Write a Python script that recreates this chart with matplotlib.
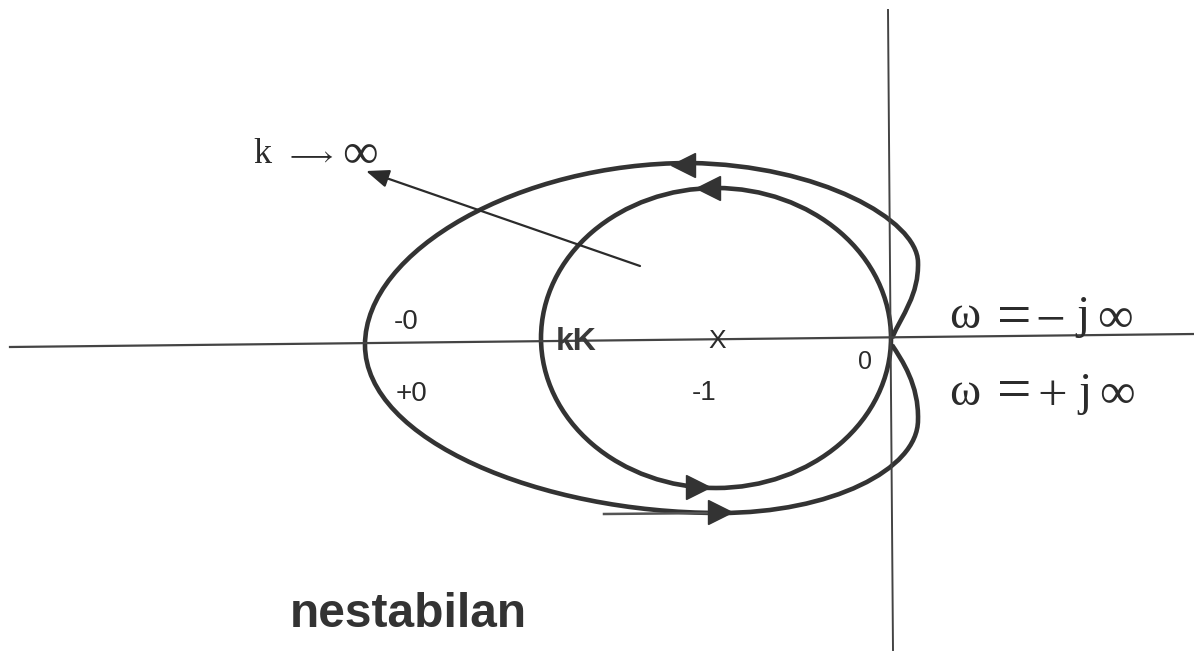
import matplotlib
matplotlib.use("Agg")
import matplotlib.pyplot as plt
from matplotlib.path import Path
from matplotlib.patches import PathPatch, Ellipse

plt.rcParams["mathtext.fontset"] = "stix"

# all values in picture pixels (x to the right, y downward)
real_axis_x = [10, 1194]
real_axis_y = [347, 334]
imag_axis_x = [888, 893]
imag_axis_y = [10, 650]

# outer contour: start point + cubic bezier segments (ctrl, ctrl, end)
outer_x = [892, 902, 919, 918, 917, 820, 690, 520, 365, 365,
           365, 540, 720, 830, 918, 918, 919, 902, 892]
outer_y = [338, 315, 295, 262, 220, 165, 163, 163, 250, 345,
           440, 513, 513, 513, 470, 420, 385, 360, 345]

# stray pen stroke under the outer contour
stroke_x = [604, 718]
stroke_y = [514, 513]

# inner contour (around -1)
inner_center = (716, 338)
inner_width = 350
inner_height = 300

# direction arrowheads on the contours
left_heads_x = [683, 708]
left_heads_y = [165, 188]
right_heads_x = [698, 720]
right_heads_y = [487, 512]

# k -> inf arrow
k_arrow_tail = (640, 266)
k_arrow_tip = (366, 171)

# omega labels, one glyph each: (x centre, baseline, glyph, size)
omega_top = [(965, 328, "\u03c9", 34), (1014, 335, "=", 44),
             (1050, 335, "\u2212", 38), (1083, 328, "j", 34),
             (1115, 332, "\u221e", 36)]
omega_bottom = [(965, 405, "\u03c9", 34), (1014, 409, "=", 44),
                (1052, 410, "+", 38), (1085, 405, "j", 34),
                (1117, 408, "\u221e", 36)]

CURVE = "#333333"
INK = "#2b2b2b"
SERIF = ["Liberation Serif", "DejaVu Serif"]
SANS = ["Liberation Sans", "DejaVu Sans"]


def draw_axes(ax):
    ax.plot(real_axis_x, real_axis_y, color="#444444", lw=1.6)
    ax.plot(imag_axis_x, imag_axis_y, color="#444444", lw=1.4)


def draw_contours(ax):
    verts = list(zip(outer_x, outer_y))
    codes = [Path.MOVETO] + [Path.CURVE4] * (len(verts) - 1)
    ax.add_patch(PathPatch(Path(verts, codes), fill=False,
                           edgecolor=CURVE, lw=3.3))
    ax.plot(stroke_x, stroke_y, color="#555555", lw=1.8)
    ax.add_patch(Ellipse(inner_center, inner_width, inner_height,
                         fill=False, edgecolor=CURVE, lw=3.3))
    ax.plot(left_heads_x, left_heads_y, ls="none", marker="<",
            ms=17, color=CURVE)
    ax.plot(right_heads_x, right_heads_y, ls="none", marker=">",
            ms=17, color=CURVE)
    ax.annotate("", xy=k_arrow_tip, xytext=k_arrow_tail,
                arrowprops=dict(arrowstyle="-|>,head_length=1.4,head_width=0.55",
                                color=INK, lw=1.6, shrinkA=0, shrinkB=0))


def draw_labels(ax):
    # k -> infinity
    ax.text(262, 163, "k", family=SERIF, fontsize=26, color=INK,
            ha="center", va="baseline")
    ax.text(309, 155, r"$\longrightarrow$", fontsize=20, color=INK,
            ha="center", va="center")
    ax.text(360, 168, "\u221e", family=SERIF, fontsize=36, color=INK,
            ha="center", va="baseline")

    ax.text(394, 329, "-0", family=SANS, fontsize=20, color=INK,
            ha="left", va="baseline")
    ax.text(396, 401, "+0", family=SANS, fontsize=20, color=INK,
            ha="left", va="baseline")
    ax.text(556, 350, "kK", family=SANS, fontsize=23, weight="bold",
            color="#3a3a3a", ha="left", va="baseline")
    ax.text(717, 341, "X", family=SANS, fontsize=19, color=INK,
            ha="center", va="center")
    ax.text(692, 400, "-1", family=SANS, fontsize=20, color=INK,
            ha="left", va="baseline")
    ax.text(865, 362, "0", family=SANS, fontsize=18, color=INK,
            ha="center", va="center")

    for glyphs in [omega_top, omega_bottom]:
        for x, base, g, size in glyphs:
            ax.text(x, base, g, family=SERIF, fontsize=size, color=INK,
                    ha="center", va="baseline")

    ax.text(290, 627, "nestabilan", family=SANS, fontsize=34.5,
            weight="bold", color="#333333", ha="left", va="baseline")


def main():
    fig = plt.figure(figsize=(11.94, 6.57), dpi=100)
    ax = fig.add_axes([0, 0, 1, 1])
    ax.set_xlim(0, 1194)
    ax.set_ylim(657, 0)
    ax.axis("off")

    draw_axes(ax)
    draw_contours(ax)
    draw_labels(ax)

    fig.savefig("out.png", dpi=100, facecolor="white")


if __name__ == "__main__":
    main()
